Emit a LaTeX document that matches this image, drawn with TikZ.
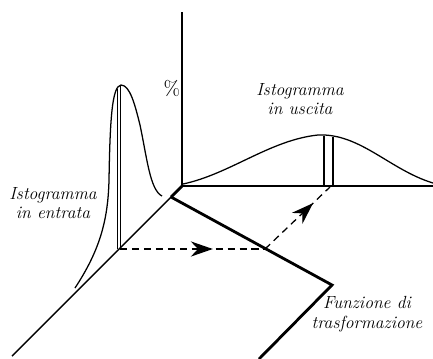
\documentclass[tikz,border=0pt]{standalone}
\usetikzlibrary{arrows.meta,decorations.markings}
\begin{document}
\begin{tikzpicture}[x=0.025cm,y=-0.025cm,
  axis/.style={line width=1pt},
  hist/.style={line width=0.9pt},
  transf/.style={line width=2pt,line join=miter},
  guide/.style={line width=0.9pt,dash pattern=on 5pt off 3.5pt},
  guide arrow/.style={postaction={decorate},decoration={markings,
    mark=at position #1 with {\arrow{Stealth[length=5.5mm,width=3.8mm,inset=1.8mm]}}}},
  lbl/.style={font=\fontsize{12.5}{14}\selectfont\itshape,align=center}]
  \useasboundingbox (0,0) rectangle (433,358);

  % Axes
  \coordinate (O) at (182,186);
  \coordinate (C) at (171,197);
  \coordinate (Ytop) at (182,12);
  \coordinate (Xend) at (433,186);
  \coordinate (Zend) at (12,356);
  \draw[axis] (Ytop) -- (O);
  \draw[axis] (O) -- (Xend);
  \draw[transf] (O) -- (C);
  \draw[axis] (C) -- (Zend);

  % Transformation function
  \coordinate (T) at (332,285);
  \coordinate (Tend) at (259,359);
  \draw[transf] (C) -- (T) -- (Tend);

  % Input histogram
  \draw[hist] (75,288)
  .. controls (100,250) and (108,220) .. (109,180)
  .. controls (110,120) and (112,86) .. (121,85)    % peak
  .. controls (130,85) and (135,105) .. (140,125)
  .. controls (147,158) and (150,190) .. (162,196);
  \draw[hist] (117.5,89) -- (117.5,249);
  \draw[hist] (120.5,86) -- (120.5,249);

  % Output histogram
  \draw[hist] (183,184)
  .. controls (230,174) and (270,140) .. (318,135)  % peak
  .. controls (360,133) and (390,170) .. (433,183);
  \draw[hist] (324,135.5) -- (324,186);
  \draw[hist] (333,136.5) -- (333,186);

  % Mapping of a level through the function
  \coordinate (P) at (120,249);
  \coordinate (Q) at (265,249);
  \coordinate (R) at (330,187);
  \draw[guide,guide arrow=0.64] (P) -- (Q);
  \draw[guide,guide arrow=0.74] (Q) -- (R);

  % Labels
  \node[font=\Large] (pct) at (172,88) {\%};
  \node[lbl] (outlbl) at (300,99) {Istogramma\\in uscita};
  \node[lbl] (inlbl) at (53,203) {Istogramma\\in entrata};
  \node[lbl] (fnlbl) at (367,314) {Funzione di\\trasformazione};
\end{tikzpicture}
\end{document}
